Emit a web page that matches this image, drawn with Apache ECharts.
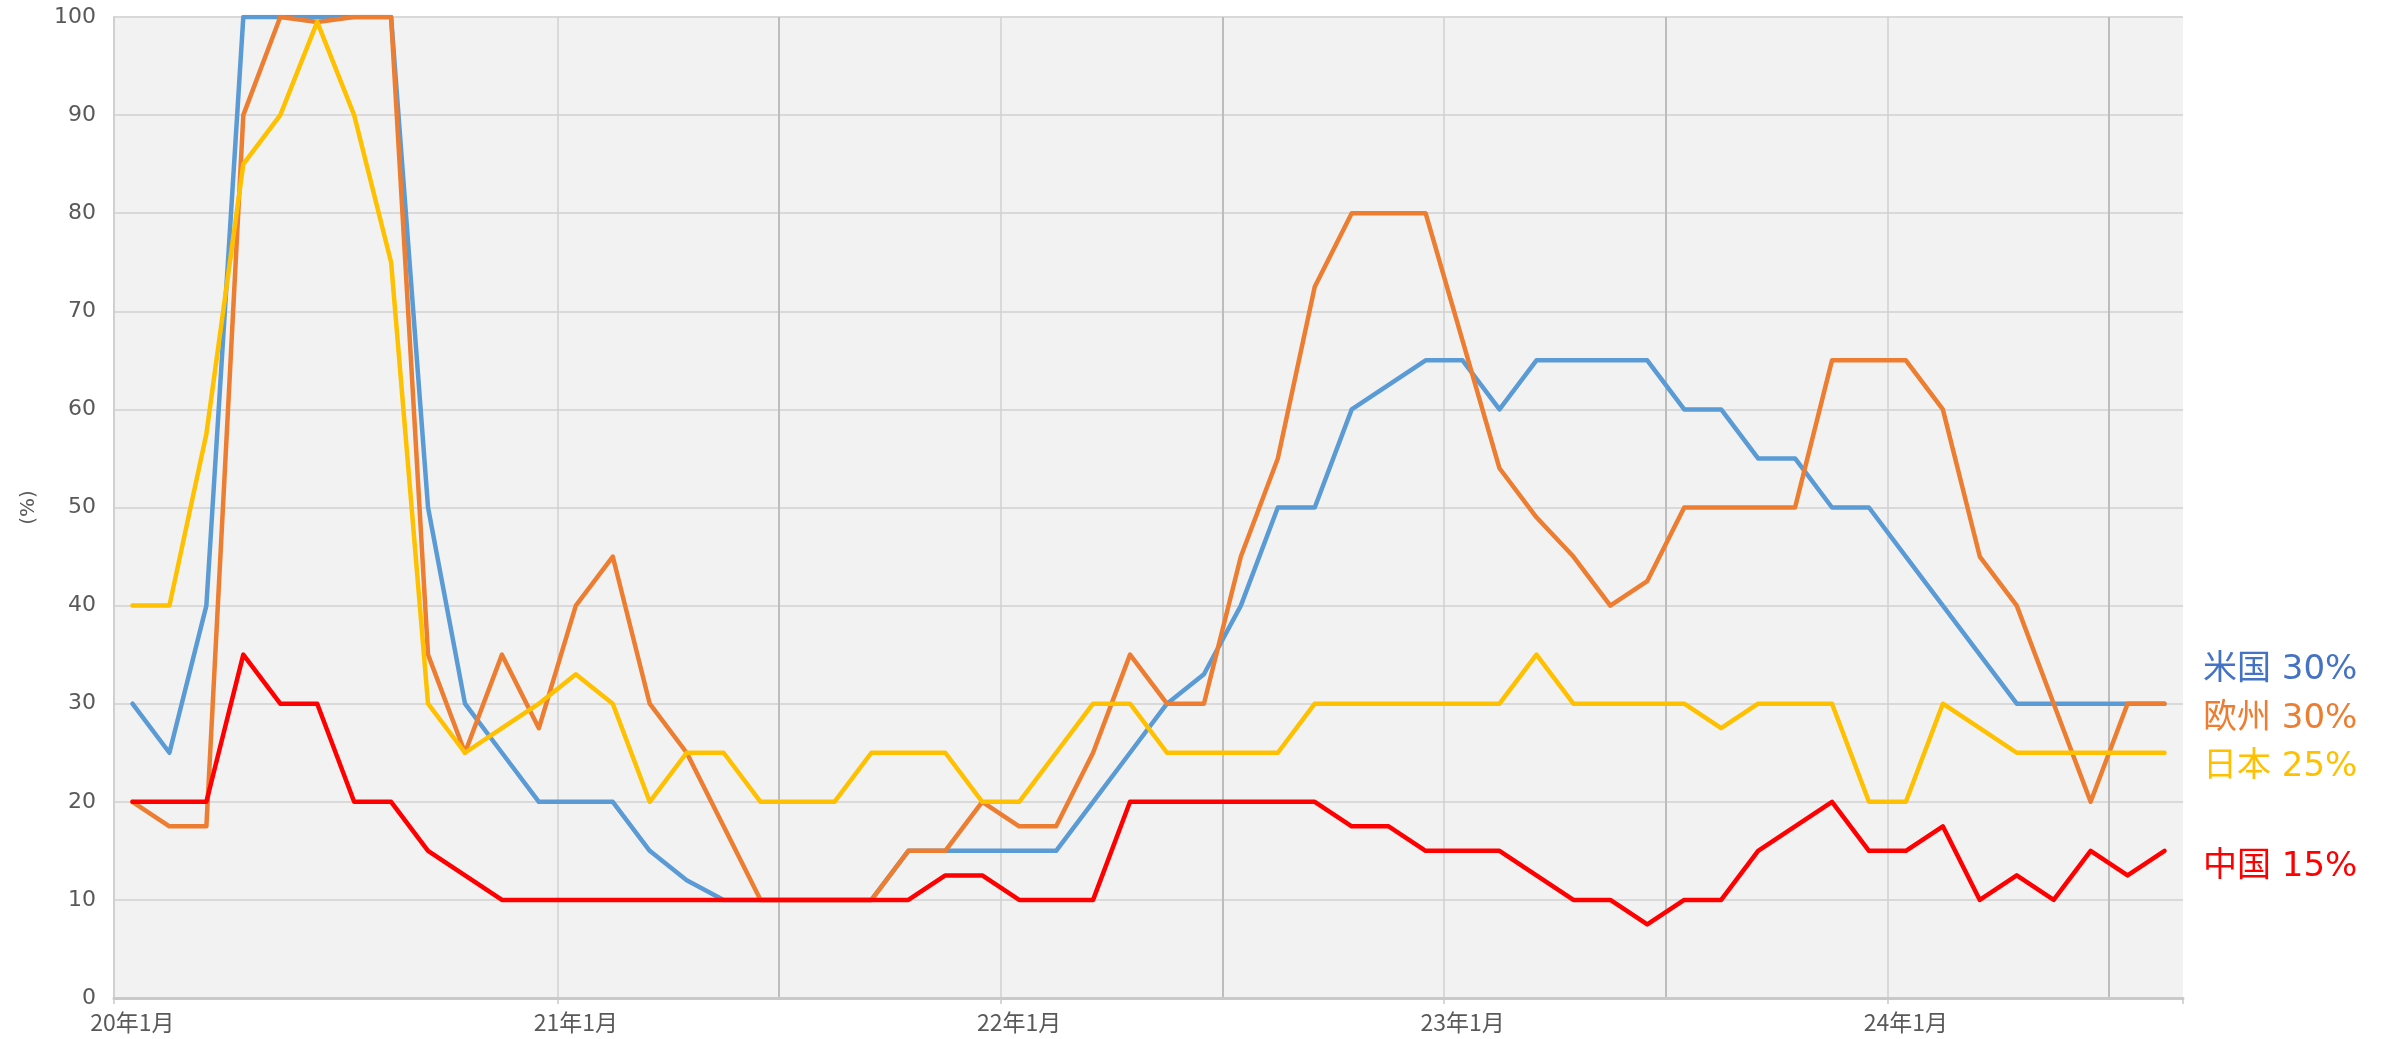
<!DOCTYPE html>
<html><head><meta charset="utf-8">
<script src="https://cdn.jsdelivr.net/npm/echarts@6/dist/echarts.min.js"></script>
<style>html,body{margin:0;padding:0;background:#fff}#c{width:2389px;height:1039px}</style>
</head><body><div id="c"></div>
<script>
const categories = [
  "20年1月","20年2月","20年3月","20年4月","20年5月","20年6月","20年7月","20年8月","20年9月","20年10月","20年11月","20年12月",
  "21年1月","21年2月","21年3月","21年4月","21年5月","21年6月","21年7月","21年8月","21年9月","21年10月","21年11月","21年12月",
  "22年1月","22年2月","22年3月","22年4月","22年5月","22年6月","22年7月","22年8月","22年9月","22年10月","22年11月","22年12月",
  "23年1月","23年2月","23年3月","23年4月","23年5月","23年6月","23年7月","23年8月","23年9月","23年10月","23年11月","23年12月",
  "24年1月","24年2月","24年3月","24年4月","24年5月","24年6月","24年7月","24年8月"
];
const seriesNames = ["米国", "欧州", "日本", "中国"];
const usa = [30,25,40,100,100,100,100,100,50,30, 25,20,20,20,15,12,10,10,10,10, 10,15,15,15,15,15,20,25,30,33, 40,50,50,60,62.5,65,65,60,65,65, 65,65,60,60,55,55,50,50,45,40, 35,30,30,30,30,30];
const europe = [20,17.5,17.5,90,100,99.5,100,100,35,25, 35,27.5,40,45,30,25,17.5,10,10,10, 10,15,15,20,17.5,17.5,25,35,30,30, 45,55,72.5,80,80,80,67,54,49,45, 40,42.5,50,50,50,50,65,65,65,60, 45,40,30,20,30,30];
const japan = [40,40,57.5,85,90,99.5,90,75,30,25, 27.5,30,33,30,20,25,25,20,20,20, 25,25,25,20,20,25,30,30,25,25, 25,25,30,30,30,30,30,30,35,30, 30,30,30,27.5,30,30,30,20,20,30, 27.5,25,25,25,25,25];
const china = [20,20,20,35,30,30,20,20,15,12.5, 10,10,10,10,10,10,10,10,10,10, 10,10,12.5,12.5,10,10,10,20,20,20, 20,20,20,17.5,17.5,15,15,15,12.5,10, 10,7.5,10,10,15,17.5,20,15,15,17.5, 10,12.5,10,15,12.5,15];

const lineColors = ["#5B9BD5", "#ED7D31", "#FFC000", "#FF0000"];
const labelColors = ["#4472C4", "#ED7D31", "#FFC000", "#FF0000"];
const labelY = [670, 719, 767, 867];
const dataSets = [usa, europe, japan, china];

const cjkFont = '"Noto Sans CJK JP", sans-serif';
const numFont = '"DejaVu Sans", "Noto Sans CJK JP", sans-serif';

const chart = echarts.init(document.getElementById('c'), null, {renderer: 'canvas'});
const option = {
  animation: false,
  backgroundColor: '#ffffff',
  grid: {left: 114, right: 206, top: 17, bottom: 41, show: true, backgroundColor: '#f2f2f2', borderWidth: 0},
  xAxis: [{
    type: 'category', data: categories, boundaryGap: true,
    axisLine: {show: true, lineStyle: {color: '#c9c9c9', width: 3}},
    axisTick: {show: true, interval: (i) => i % 12 === 0, length: 6, lineStyle: {color: '#c9c9c9', width: 1.5}},
    axisLabel: {interval: (i) => i % 12 === 0, margin: 13, fontSize: 23, color: '#595959', fontFamily: cjkFont},
    splitLine: {show: true, interval: (i) => i % 12 === 0, showMinLine: false, showMaxLine: false, lineStyle: {color: '#d0d0d0', width: 1.5}}
  }, {
    type: 'category', data: categories, boundaryGap: true, position: 'bottom',
    axisLine: {show: false}, axisTick: {show: false}, axisLabel: {show: false},
    splitLine: {show: true, interval: (i) => i % 12 === 6, showMinLine: false, showMaxLine: false, lineStyle: {color: '#bdbdbd', width: 2}}
  }],
  yAxis: {
    type: 'value', min: 0, max: 100, interval: 10,
    name: '(%)', nameLocation: 'middle', nameGap: 75,
    nameTextStyle: {fontSize: 20, color: '#595959', fontFamily: numFont},
    axisLine: {show: true, lineStyle: {color: '#d0d0d0', width: 2}},
    axisTick: {show: false},
    axisLabel: {margin: 18, fontSize: 22, color: '#595959', fontFamily: numFont},
    splitLine: {show: true, lineStyle: {color: '#d9d9d9', width: 2}}
  },
  series: dataSets.map((d, k) => ({
    name: seriesNames[k], type: 'line', data: d, xAxisIndex: 0,
    symbol: 'none', smooth: false,
    lineStyle: {color: lineColors[k], width: 4.5, join: 'round', cap: 'round'},
    itemStyle: {color: lineColors[k]},
    z: 2 + k
  })),
  graphic: dataSets.map((d, k) => ({
    type: 'text', x: 2203, y: labelY[k],
    style: {
      text: seriesNames[k] + ' ' + d[d.length - 1] + '%',
      fill: labelColors[k], fontSize: 34, fontFamily: numFont,
      textAlign: 'left', textVerticalAlign: 'middle'
    }
  }))
};
chart.setOption(option);
</script>
</body></html>
